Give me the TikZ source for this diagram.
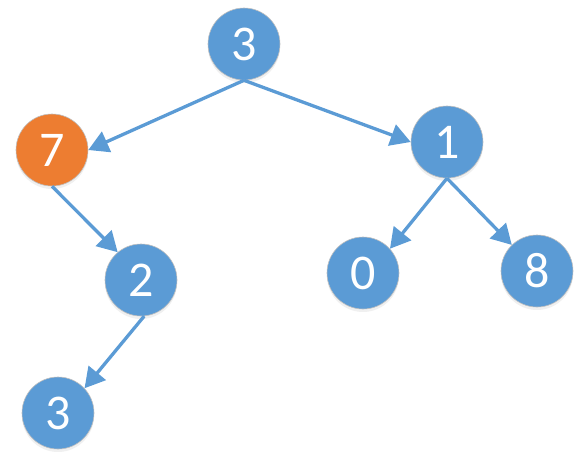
\documentclass[tikz,border=0pt]{standalone}
\usepackage{fontspec}
\setmainfont{Carlito}
\usetikzlibrary{arrows.meta,shadows}
\definecolor{nblue}{HTML}{5B9BD5}
\definecolor{norange}{HTML}{ED7D31}
\begin{document}
\begin{tikzpicture}[x=1pt,y=-1pt,
  tnode/.style={circle,minimum size=72pt,inner sep=0pt,fill=nblue,draw=black!25,line width=0.6pt,
    text=white,font=\fontsize{50}{50}\selectfont,
    drop shadow={opacity=0.12,shadow xshift=0pt,shadow yshift=-3pt}},
  hot/.style={fill=norange},
  link/.style={draw=nblue,line width=3.3pt,-{Triangle[length=20pt,width=22pt]}}]
\useasboundingbox (0,0) rectangle (583,461);
\node[tnode] (r) at (244,44) {3};
\node[tnode,hot] (a) at (52,150) {7};
\node[tnode] (b) at (447,142) {1};
\node[tnode] (c) at (141,280) {2};
\node[tnode] (d) at (363,273) {0};
\node[tnode] (e) at (537,271) {8};
\node[tnode] (f) at (58,413) {3};
\draw[link] (r.south) -- (a.east);
\draw[link] (r.south) -- (b.west);
\draw[link] (b.south) -- (d.42);
\draw[link] (b.south) -- (e.134);
\draw[link] (a.south) -- (c.130);
\draw[link] (c.-85) -- (f.43);
\end{tikzpicture}
\end{document}
